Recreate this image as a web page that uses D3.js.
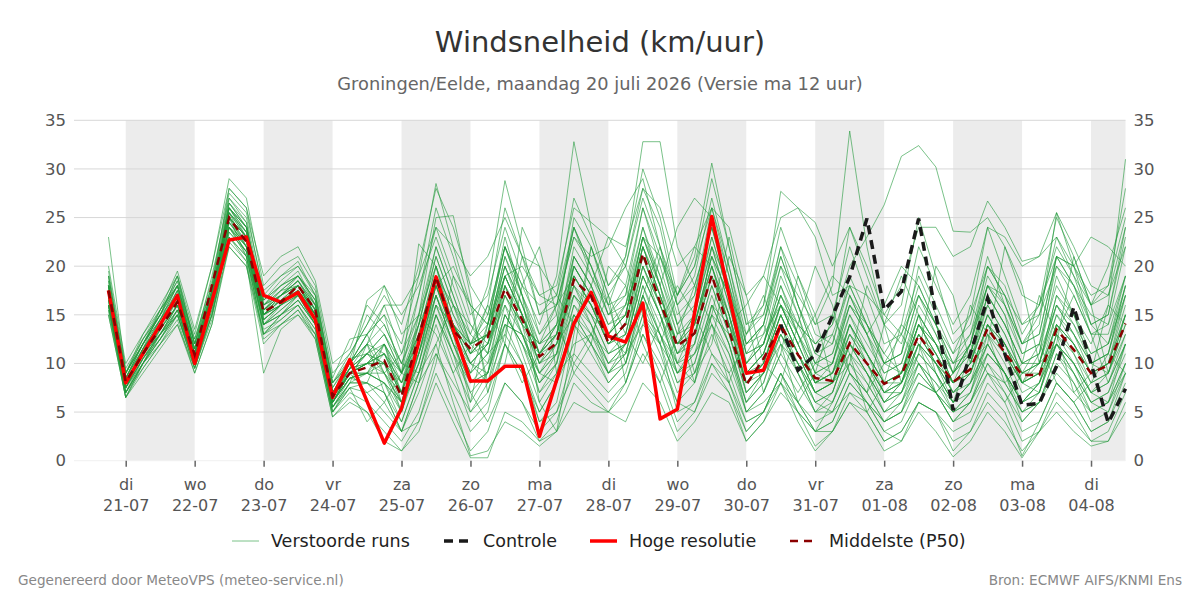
<!DOCTYPE html>
<html>
<head>
<meta charset="utf-8">
<script src="https://cdn.jsdelivr.net/npm/d3@7"></script>
<style>
  body { margin: 0; background: #fff; }
  svg { font-family: "DejaVu Sans", sans-serif; }
</style>
</head>
<body>
<svg width="1200" height="600"></svg>
<script>
// first forecast step and step length (hours)
const startTime = Date.UTC(2026, 6, 20, 18);
const stepHours = 6;

// Hoge resolutie (ends after 40 steps)
const hires = [17.5, 8.0, 11, 14, 17.0, 10.0, 16.4, 22.7, 23.0, 17.0, 16.3, 17.3, 14.5, 6.5, 10.4,
  6.1, 1.8, 5.4, 12.2, 18.9, 13.5, 8.2, 8.2, 9.7, 9.7, 2.5, 8.3, 14.1, 17.3, 12.8,
  12.2, 16.2, 4.3, 5.3, 15.2, 25.1, 17.0, 9.0, 9.3, 14.0];

// Controle, visible from step 39 on
const controlStart = 39;
const control = [14.0, 9.3, 10.9, 14.9, 18.9, 24.9, 15.5, 17.4, 24.9, 15.0, 5.2,
  11.0, 16.7, 11.0, 5.7, 5.9, 9.7, 15.8, 10.0, 3.9, 7.4];

// Middelste (P50)
const median = [17.5, 8.1, 11, 13.6, 16.3, 10.9, 18.0, 25.0, 22.5, 15.3, 16.3, 18.0, 15.5, 6.6, 9.0,
  9.6, 10.3, 6.6, 12.8, 18.9, 13.4, 11.5, 12.7, 17.7, 14.5, 10.7, 12.1, 18.6, 16.9, 12.1,
  14.1, 21.3, 16.3, 11.8, 13.1, 19.1, 13.4, 7.8, 10.5, 13.9, 10.9, 8.5, 8.2, 12.1, 10.0,
  7.9, 8.8, 12.9, 10.5, 8.1, 9.4, 13.6, 11.1, 8.8, 8.8, 13.5, 11.4, 9.0, 9.8, 14.1];

// Verstoorde runs
const runs = [
  [17, 8, 11, 14, 17, 11, 17, 26, 24, 15, 16, 18, 15, 6, 9,
   10, 12, 7, 13, 20, 15, 12, 13, 19, 15, 10, 12, 20, 17, 12,
   14, 22, 17, 11, 13, 20, 14, 8, 10, 15, 11, 8, 9, 13, 11, 8,
   9, 14, 11, 8, 10, 15, 12, 9, 9, 14, 12, 9, 10, 15],
  [19, 9, 12, 15, 19, 12, 18, 28, 26, 17, 19, 20, 17, 8, 10,
   13, 15, 9, 17, 26, 21, 15, 17, 24, 19, 13, 15, 24, 20, 15,
   17, 26, 20, 14, 17, 24, 17, 10, 12, 18, 14, 10, 11, 16, 13, 10,
   11, 17, 13, 9, 11, 17, 14, 10, 11, 16, 14, 11, 12, 17],
  [16, 7, 10, 13, 16, 10, 16, 24, 22, 14, 15, 17, 14, 5.5, 8,
   8, 6, 3, 8, 15, 10, 6, 9, 18, 14, 7, 10, 21, 18, 14,
   16, 24, 18, 10, 8, 16, 12, 5, 7, 12, 9, 6, 5, 9, 7, 4,
   5, 10, 8, 6, 7, 12, 9, 4, 6, 11, 9, 6, 5, 10],
  [18, 8.5, 11.5, 14, 17.5, 11, 17.5, 25, 23, 16, 17, 18.5, 16, 7, 10,
   12, 16, 11, 17, 24, 19, 14, 12, 16, 11, 6, 9, 16, 14, 10,
   12, 19, 15, 9, 12, 22, 18, 11, 14, 22, 18, 13, 12, 19, 15, 10,
   11, 20, 16, 12, 14, 21, 16, 11, 12, 20, 17, 13, 14, 22],
  [15, 6.5, 10, 12, 14, 9, 14, 22, 20, 12, 14, 15, 13, 5, 7,
   6, 4, 2, 5, 11, 7, 3, 5, 12, 9, 4, 6, 14, 11, 8,
   10, 17, 13, 8, 9, 15, 11, 6, 8, 14, 11, 7, 6, 11, 8, 5,
   6, 9, 7, 4, 5, 9, 7, 3, 4, 8, 6, 3, 4, 8],
  [23, 9, 13, 16, 19, 13, 20, 29, 27, 18, 20, 21, 18, 9, 11,
   14, 17, 14, 20, 28, 24, 18, 15, 22, 17, 11, 14, 25, 22, 17,
   20, 28, 24, 16, 19, 27, 20, 12, 14, 21, 16, 12, 14, 24, 19, 14,
   16, 25, 19, 13, 15, 24, 19, 14, 16, 25, 21, 16, 18, 28],
  [17.5, 7.5, 10.5, 13, 15.5, 10, 15, 23, 21, 13, 15, 16.5, 14, 6, 8.5,
   9, 10, 5, 10, 17, 12, 7, 4, 8, 6, 3, 5, 11, 9, 7,
   9, 15, 11, 6, 8, 13, 9, 4, 5, 9, 6, 3, 4, 8, 6, 3,
   4, 8, 7, 5, 6, 10, 8, 5, 7, 12, 10, 7, 8, 13],
  [16.5, 8, 11, 14.5, 18, 12, 19, 27, 25, 16.5, 18, 19.5, 16, 7.5, 10.5,
   15, 13, 9, 14, 21, 16, 11, 16, 26, 21, 15, 17, 27, 23, 18,
   21, 30, 25, 17, 20, 29, 22, 14, 16, 24, 19, 14, 15, 22, 17, 12,
   13, 19, 15, 11, 13, 20, 17, 12, 13, 21, 18, 14, 15, 23],
  [18.5, 8.5, 12, 15, 17, 11.5, 16.5, 24.5, 22, 15, 16.5, 17, 15, 6.5, 9.5,
   11, 9, 6, 12, 19, 14, 10, 8, 15, 12, 8, 11, 19, 16, 12,
   13, 21, 16, 12, 15, 23, 17, 9, 11, 16, 12, 8, 9, 15, 11, 7,
   8, 14, 11, 8, 10, 17, 14, 10, 11, 19, 15, 10, 9, 14],
  [17, 7, 10, 13.5, 16, 10.5, 16.5, 26.5, 24.5, 14.5, 16, 17.5, 15.5, 6, 9,
   10, 11, 7, 11, 18, 13, 9, 14, 22, 17, 12, 14, 18, 14, 9,
   11, 18, 14, 10, 14, 21, 15, 7, 9, 13, 9, 5, 7, 12, 9, 6,
   8, 13, 10, 6, 8, 12, 9, 6, 8, 14, 11, 7, 6, 12],
  [19.5, 9.5, 12.5, 15, 18.5, 12.5, 18.5, 27.5, 25.5, 17.5, 19, 20.5, 17, 8, 11,
   14, 18, 15, 18, 23, 18, 13, 11, 18, 14, 10, 13, 22, 19, 15,
   18, 26, 21, 15, 17, 26, 20, 13, 15, 22, 16, 11, 10, 16, 13, 9,
   10, 16, 13, 9, 12, 19, 16, 12, 13, 21, 18, 13, 13, 19],
  [15.5, 6.5, 9.5, 12, 15, 9.5, 14.5, 23.5, 21.5, 13.5, 14.5, 16, 13.5, 5, 7.5,
   7, 8, 4, 9, 16, 11, 5, 7, 14, 10, 5, 8, 15, 12, 9,
   12, 20, 15, 9, 11, 17, 12, 6, 8, 13, 10, 7, 8, 14, 10, 6,
   7, 12, 9, 5, 7, 13, 10, 6, 7, 13, 10, 6, 7, 11],
  [18, 8, 11.5, 14.5, 17, 11, 17, 25.5, 23.5, 16, 17.5, 18, 15.5, 7, 9.5,
   12, 14, 10, 15, 22, 17, 12, 13, 21, 17, 13, 16, 24, 19, 16,
   21, 32.8, 32.8, 22, 18, 24, 18, 10, 12, 17, 13, 9, 10, 17, 13, 8,
   9, 15, 12, 8, 10, 16, 13, 9, 10, 16, 13, 9, 10, 16],
  [16, 7.5, 10.5, 13.5, 16.5, 10.5, 17, 25, 23, 15, 16, 18, 15, 6.5, 9,
   9, 12, 8, 13, 20, 15, 11, 13, 20, 16, 11, 13, 21, 18, 13,
   15, 23, 18, 12, 14, 21, 17, 10, 13, 20, 17, 14, 18, 33.9, 22, 14,
   12, 18, 14, 9, 11, 17, 14, 10, 10, 16, 13, 10, 11, 18],
  [17, 8, 11, 13.5, 16, 11, 16, 24, 22.5, 15.5, 17, 18, 15, 6.5, 9,
   10, 9, 5, 11, 18, 13, 9, 11, 19, 15, 10, 12, 19, 16, 12,
   14, 22, 17, 12, 14, 20, 15, 9, 11, 17, 14, 12, 14, 20, 23, 26.3,
   31.3, 32.4, 30.2, 23.6, 23.5, 25, 22, 17, 16, 22, 19, 16, 17, 24],
  [16, 7, 9.5, 12, 14.5, 9, 14, 22.5, 20.5, 9, 13.5, 15, 12.5, 4.5, 6.5,
   5, 3, 1, 4, 9, 5, 1, 3, 8, 6, 2, 4, 10, 8, 6,
   8, 13, 10, 6, 5, 9, 7, 3, 5, 9, 5, 1.5, 3, 7, 5, 2,
   3, 6, 5, 2, 3, 6, 4, 1, 3, 6, 4, 2, 3, 7],
  [18, 9, 12, 15.5, 18.5, 12, 18, 27, 24.5, 16, 18, 19, 16.5, 7.5, 10,
   13, 15, 12, 19, 28.5, 22, 16, 14, 20, 15, 9, 11, 20, 17, 13,
   15, 23, 19, 14, 16, 23, 17, 11, 12, 19, 15, 10, 9, 14, 11, 8,
   9, 15, 12, 8, 9, 14, 11, 8, 9, 15, 12, 9, 10, 17],
  [17.5, 8, 11, 14, 16.5, 10.5, 16, 25, 22, 14, 16, 17, 14.5, 6, 9,
   11, 10, 7, 14, 21, 16, 13, 18, 28.8, 22, 15, 16, 23, 20, 16,
   17, 24, 19, 13, 15, 22, 16, 9, 10, 15, 11, 7, 8, 13, 10, 7,
   8, 13, 11, 7, 9, 14, 12, 8, 9, 14, 12, 8, 9, 15],
  [19, 9, 12.5, 15, 18, 11.5, 17.5, 26, 23.5, 16.5, 18, 19, 16, 7, 10,
   12, 11, 8, 14, 22, 17, 12, 14, 22, 18, 14, 19, 32.8, 24, 18,
   20, 27, 22, 17, 21, 30.6, 22, 14, 15, 21, 16, 11, 12, 18, 14, 10,
   11, 17, 14, 10, 12, 18, 15, 11, 12, 18, 15, 11, 12, 19],
  [15, 6.5, 10, 12.5, 15.5, 10, 15.5, 24, 21, 13, 15, 16.5, 14, 5.5, 8,
   8, 7, 3, 8, 14, 9, 4, 6, 12, 9, 5, 8, 15, 13, 9,
   11, 18, 13, 8, 10, 16, 12, 6, 9, 14, 10, 6, 7, 12, 9, 5,
   6, 11, 9, 6, 8, 14, 12, 8, 10, 17, 15, 12, 16, 31],
  [17, 8.5, 11.5, 14, 17.5, 11.5, 17.5, 25.5, 23, 15.5, 17, 18, 16, 7, 9.5,
   10, 12, 9, 13, 19, 14, 10, 12, 19, 15, 11, 13, 20, 17, 13,
   15, 23, 18, 13, 14, 20, 15, 8, 10, 16, 13, 10, 11, 17, 14, 11,
   14, 22, 18, 14, 17, 24, 23, 20, 21, 25.5, 22, 18, 17, 22],
  [16.5, 7.5, 11, 13.5, 16, 10, 16, 24.5, 22, 15, 16.5, 17.5, 15, 6.5, 9,
   11, 13, 9, 12, 17, 12, 8, 10, 17, 14, 12, 16, 23, 21, 22,
   26, 29, 22, 16, 18, 24, 18, 12, 14, 20, 15, 9, 8, 12, 10, 7,
   8, 12, 10, 7, 8, 12, 9, 6, 7, 12, 9, 6, 7, 12],
  [18, 8, 11, 14, 17, 11, 17, 26, 23.5, 15, 17, 18, 15, 6.5, 9,
   7, 5, 3, 7, 12, 6, 0.5, 1, 4, 3, 1.5, 3, 6, 5, 5,
   4, 8, 6, 2, 4, 7, 6, 2, 4, 7, 5, 3, 4, 8, 6, 4,
   5, 9, 7, 4, 6, 11, 9, 5, 6, 11, 8, 4, 5, 9],
  [16, 7.5, 10.5, 13, 15.5, 10, 16.5, 25, 23, 14.5, 16, 17.5, 15, 6, 9,
   9, 8, 6, 11, 18, 13, 9, 11, 17, 13, 9, 12, 18, 15, 11,
   13, 20, 16, 11, 14, 21, 17, 13, 16, 27.7, 26, 24.5, 20, 24, 20, 15,
   13, 17, 14, 10, 11, 16, 13, 9, 10, 15, 13, 10, 11, 17],
  [17.5, 8, 11.5, 14, 16.5, 10.5, 16.5, 25.5, 23.5, 15.5, 17, 18.5, 15.5, 7, 9.5,
   16.5, 18, 13, 15, 20, 14, 12, 15, 22, 18, 16, 17, 24, 20, 15,
   16, 21, 17, 12, 15, 22, 16, 9, 11, 16, 12, 8, 8, 13, 10, 7,
   7, 12, 10, 8, 10, 15, 12, 9, 10, 17, 14, 10, 11, 18],
  [18, 8.5, 11.5, 14.5, 17.5, 11.5, 17, 25, 22.5, 15, 16.5, 17.5, 15, 6, 8.5,
   9, 9, 6, 10, 17, 13, 10, 12, 18, 13, 8, 10, 16, 13, 10,
   11, 17, 12, 5, 6, 11, 8, 3, 5, 9, 6, 3, 3, 6, 5, 2,
   3, 6, 5, 3, 4, 8, 6, 2, 3, 7, 5, 2, 2, 6],
  [16.5, 7.5, 10.5, 13, 15, 9.5, 15, 23.5, 21.5, 14, 15.5, 17, 14, 5.5, 8.5,
   8, 7, 4, 9, 15, 11, 8, 9, 15, 12, 9, 11, 17, 15, 11,
   12, 19, 15, 11, 12, 18, 13, 7, 9, 13, 10, 6, 7, 12, 10, 7,
   9, 14, 12, 9, 12, 18, 16, 12, 15, 23, 19, 14, 15, 24],
  [17, 8, 11, 14, 16.5, 11, 17, 26, 24, 16, 17, 18.5, 15.5, 6.5, 9.5,
   10, 11, 7, 12, 19, 14, 11, 13, 20, 16, 12, 14, 21, 18, 14,
   15, 22, 18, 24, 27, 25, 19, 11, 12, 17, 13, 9, 10, 15, 12, 9,
   10, 15, 12, 8, 9, 14, 11, 7, 8, 13, 11, 8, 9, 14],
  [16, 7, 10, 13, 16, 10, 16, 24, 22, 14, 15.5, 17, 14.5, 6, 8.5,
   9, 8, 5, 11, 17, 12, 8, 9, 16, 13, 8, 10, 17, 14, 10,
   12, 19, 15, 10, 12, 18, 13, 7, 9, 14, 9, 5, 5, 9, 6, 3,
   2, 6, 5, 1, 3, 7, 5, 0.5, 4, 8, 6, 3, 4, 9],
  [17, 8, 11, 14, 17, 11, 17, 25, 23, 15.5, 16.5, 18, 15.5, 7, 9,
   10, 10, 7, 12, 19, 14, 11, 13, 21, 16, 11, 13, 20, 17, 13,
   15, 22, 17, 12, 13, 19, 14, 8, 10, 15, 11, 8, 9, 14, 11, 8,
   9, 14, 11, 8, 10, 15, 12, 8, 11, 21, 20, 23, 22, 20],
  [20, 10, 13, 15.5, 19.5, 13.5, 20, 28, 26, 19, 21, 22, 18.5, 10, 11.5,
   16, 14, 10, 9, 12, 16, 14, 11, 13, 21, 20, 17, 14, 18, 23,
   20, 15, 12, 17, 22, 20, 14, 16, 19, 16, 12, 15, 19, 17, 13, 16,
   20, 18, 14, 11, 15, 20, 18, 13, 16, 21, 20, 16, 20, 26],
  [15.5, 7, 10.5, 12.5, 15, 10, 15, 23, 21, 14, 15, 16, 13, 5, 8,
   12, 9, 11, 15, 13, 9, 12, 16, 12, 8, 11, 14, 10, 13, 17,
   13, 10, 14, 18, 15, 11, 9, 12, 14, 10, 7, 10, 13, 9, 7, 10,
   13, 10, 7, 9, 12, 9, 6, 9, 12, 8, 6, 8, 11, 9],
  [17, 9, 12, 14.5, 18, 12.5, 18, 26.5, 24, 16, 17.5, 19, 16.5, 8, 10,
   12, 7, 3, 4, 10, 19, 16, 8, 10, 18, 22, 15, 9, 12, 20,
   18, 12, 8, 13, 18, 14, 8, 13, 17, 12, 6, 9, 15, 11, 5, 8,
   14, 12, 7, 9, 16, 13, 8, 10, 17, 13, 7, 9, 16, 14],
  [18.5, 8, 11, 13, 15, 10, 17, 25, 21, 13, 14.5, 16, 13.5, 5.5, 7.5,
   4, 6, 9, 22.3, 20, 13, 6, 14, 23, 17, 6, 3, 13, 22, 17,
   8, 14, 21, 16, 9, 12, 21, 17, 10, 8, 14, 20, 16, 9, 7, 14,
   19, 15, 9, 6, 11, 18, 15, 8, 7, 13, 17, 13, 8, 12],
  [16, 7.5, 11.5, 15.5, 18, 11, 16, 24, 21.5, 15, 17, 19, 17, 8.5, 12.5,
   13, 9, 7, 15, 25, 25.2, 17, 7, 12, 24, 20, 9, 11, 22, 16,
   10, 17, 22, 14, 8, 15, 23, 15, 7, 11, 19, 15, 8, 10, 18, 14,
   8, 11, 20, 17, 10, 12, 22, 18, 10, 12, 21, 16, 9, 15],
  [17, 7.5, 10, 12.5, 15, 9.5, 15.5, 23, 20.5, 12.5, 14, 15.5, 12.5, 4.5, 6,
   5, 2, 1, 3, 8, 4, 0.3, 0.3, 5, 4, 2, 3, 8, 6, 5,
   7, 11, 8, 3, 5, 10, 7, 2, 4, 8, 4, 1, 3, 6, 4, 1,
   2, 5, 3, 0.4, 2, 5, 3, 0.3, 3, 5, 3, 1.5, 2, 5],
  [18, 8.5, 12, 15, 18, 11, 17, 26, 23, 15.5, 17.5, 19, 16.5, 7, 10,
   13, 16, 16, 19, 24, 22, 19, 21, 25, 21, 17, 16, 19, 16, 13,
   11, 14, 12, 9, 11, 15, 13, 8, 9, 12, 10, 7, 8, 11, 9, 6,
   8, 12, 10, 7, 9, 13, 11, 8, 9, 12, 10, 7, 9, 13],
  [17.5, 8, 11, 14, 17, 10.5, 16, 24.5, 22.5, 14.5, 16, 17.5, 15, 6.5, 9,
   10, 10, 8, 11, 16, 12, 10, 12, 17, 14, 12, 13, 17, 15, 13,
   16, 23, 21, 17, 20, 26, 24, 17, 19, 25, 26, 23, 17, 18, 14, 10,
   9, 14, 12, 10, 13, 18, 17, 14, 15, 20, 18, 15, 14, 19],
  [16, 6.5, 9, 11.5, 14, 9.5, 15, 22, 20, 13, 14, 15.5, 13, 5, 7.5,
   8, 12, 9, 8, 11, 8, 5, 8, 13, 10, 4, 5, 9, 7, 5,
   8, 13, 9, 4, 6, 10, 8, 4, 5, 8, 5, 3, 6, 10, 8, 5,
   7, 11, 9, 6, 8, 11, 9, 6, 8, 12, 9, 5, 6, 10],
  [19, 9, 12, 15, 19, 12, 17.5, 26.5, 24, 16.5, 18.5, 20, 17.5, 8, 10.5,
   11, 13, 10, 14, 18, 20, 16, 14, 19, 20, 17, 18, 26, 24.5, 23,
   22, 28, 26, 20, 22, 26, 19, 12, 13, 16, 12, 8, 9, 12, 9, 6,
   7, 10, 8, 5, 7, 11, 9, 6, 8, 12, 10, 7, 8, 12],
  [16.5, 7, 10, 12.5, 15.5, 10, 16, 24, 21.5, 14, 15, 16.5, 14, 5.5, 8,
   9, 11, 9, 13, 18, 14, 10, 9, 14, 13, 11, 12, 15, 12, 9,
   10, 15, 13, 10, 11, 14, 11, 5, 6, 8, 6, 4, 5, 7, 6, 4,
   5, 8, 7, 5, 6, 9, 8, 5, 6, 9, 7, 5, 6, 9],
  [18, 8.5, 12, 14.5, 17, 11, 16.5, 25, 23, 15, 16.5, 18, 15.5, 6.5, 9,
   10, 11, 8, 12, 18, 14, 11, 12, 18, 15, 11, 13, 19, 16, 12,
   13, 20, 16, 12, 13, 19, 15, 9, 11, 16, 14, 12, 13, 18, 17, 15,
   18, 24, 24, 21, 22, 26.7, 24, 20.5, 21, 23, 20, 17, 18, 25],
  [17, 8, 11, 13, 16, 10.5, 17, 25.5, 23, 15, 16, 17.5, 15, 6, 9.5,
   11, 12, 6, 9, 15, 11, 7, 9, 15, 12, 7, 9, 14, 12, 8,
   10, 16, 12, 7, 9, 14, 10, 5, 7, 11, 8, 5, 6, 10, 7, 4,
   6, 10, 7, 4, 6, 10, 7, 4, 6, 10, 8, 5, 6, 10],
  [17.5, 7.5, 11, 14, 17, 11.5, 17.5, 26, 24, 15.5, 17, 18.5, 16, 7, 9.5,
   11, 10, 6, 10, 16, 14, 12, 10, 14, 13, 9, 8, 12, 13, 11,
   12, 17, 13, 9, 10, 16, 14, 10, 12, 18, 13, 8, 10, 16, 14, 11,
   9, 13, 10, 8, 12, 20, 17, 12, 14, 25.5, 20, 14, 12, 18],
  [18, 9, 12.5, 15.5, 18, 12, 17, 25.5, 22, 14.5, 16, 17, 14, 6, 8.5,
   9, 8, 6, 12, 19, 16, 12, 13, 19, 15, 10, 11, 18, 16, 12,
   14, 21, 16, 11, 13, 19, 14, 8, 10, 15, 11, 7, 8, 14, 11, 8,
   8, 13, 10, 7, 9, 14, 11, 8, 9, 14, 12, 9, 10, 15]
];

// x axis: days, Dutch weekday names, shaded days
const tickDays = ["2026-07-21", "2026-07-22", "2026-07-23", "2026-07-24", "2026-07-25",
  "2026-07-26", "2026-07-27", "2026-07-28", "2026-07-29", "2026-07-30", "2026-07-31",
  "2026-08-01", "2026-08-02", "2026-08-03", "2026-08-04"];
const dayNames = ["zo", "ma", "di", "wo", "do", "vr", "za"];
const shadedDays = ["2026-07-21", "2026-07-23", "2026-07-25", "2026-07-27",
  "2026-07-29", "2026-07-31", "2026-08-02", "2026-08-04"];
const yTicks = [0, 5, 10, 15, 20, 25, 30, 35];

const svg = d3.select("svg");
const plotLeft = 74, plotRight = 1125.5, plotTop = 120.3, plotBottom = 460.7;

const x = d3.scaleUtc()
  .domain([Date.UTC(2026, 6, 20, 6), Date.UTC(2026, 7, 4, 12)])
  .range([plotLeft, plotRight]);
const y = d3.scaleLinear().domain([0, 35]).range([plotBottom, plotTop]);

const timeAt = i => new Date(startTime + i * stepHours * 3600e3);
const parseDay = s => new Date(s + "T00:00:00Z");

// shaded day bands
svg.append("g").selectAll("rect")
  .data(shadedDays)
  .join("rect")
  .attr("x", d => x(parseDay(d)))
  .attr("y", plotTop)
  .attr("width", d => Math.min(plotRight, x(d3.utcDay.offset(parseDay(d), 1))) - x(parseDay(d)))
  .attr("height", plotBottom - plotTop)
  .attr("fill", "#ececec");

// grid
svg.append("g").selectAll("line")
  .data(yTicks)
  .join("line")
  .attr("x1", plotLeft).attr("x2", plotRight)
  .attr("y1", d => y(d)).attr("y2", d => y(d))
  .attr("stroke", d => d === 0 ? "#f0f0f0" : "#d8d8d8")
  .attr("stroke-width", 1);

// axes
const yLeft = svg.append("g")
  .attr("transform", `translate(${plotLeft},0)`)
  .call(d3.axisLeft(y).tickValues(yTicks).tickSize(0).tickPadding(8));
const yRight = svg.append("g")
  .attr("transform", `translate(${plotRight},0)`)
  .call(d3.axisRight(y).tickValues(yTicks).tickSize(0).tickPadding(8));
[yLeft, yRight].forEach(g => {
  g.select(".domain").remove();
  g.selectAll("text").attr("font-size", 16.5).attr("fill", "#555")
    .attr("font-family", "DejaVu Sans");
});

const xAxis = svg.append("g")
  .attr("transform", `translate(0,${plotBottom})`)
  .call(d3.axisBottom(x).tickValues(tickDays.map(parseDay)).tickSize(6).tickFormat(""));
xAxis.select(".domain").remove();
xAxis.selectAll(".tick line").attr("stroke", "#666").attr("stroke-width", 1.5);
xAxis.selectAll(".tick").each(function(d) {
  const txt = d3.select(this).append("text")
    .attr("fill", "#555")
    .attr("font-size", 16)
    .attr("font-family", "DejaVu Sans")
    .attr("text-anchor", "middle");
  txt.append("tspan").attr("x", 0).attr("y", 29).text(dayNames[d.getUTCDay()]);
  txt.append("tspan").attr("x", 0).attr("y", 50).text(d3.utcFormat("%d-%m")(d));
});

// lines
const line = d3.line()
  .defined(d => d.v != null)
  .x(d => x(d.t))
  .y(d => y(d.v));
const toPts = (arr, offset = 0) => arr.map((v, i) => ({ t: timeAt(i + offset), v }));

svg.append("g").selectAll("path")
  .data(runs)
  .join("path")
  .attr("d", r => line(toPts(r)))
  .attr("fill", "none")
  .attr("stroke", "#22993a")
  .attr("stroke-opacity", 0.6)
  .attr("stroke-width", 1);

svg.append("path")
  .attr("d", line(toPts(hires)))
  .attr("fill", "none")
  .attr("stroke", "#ff0000")
  .attr("stroke-width", 3.5)
  .attr("stroke-linejoin", "round");

svg.append("path")
  .attr("d", line(toPts(control, controlStart)))
  .attr("fill", "none")
  .attr("stroke", "#1a1a1a")
  .attr("stroke-width", 3.5)
  .attr("stroke-dasharray", "9,6");

svg.append("path")
  .attr("d", line(toPts(median)))
  .attr("fill", "none")
  .attr("stroke", "#8b0000")
  .attr("stroke-width", 2.5)
  .attr("stroke-dasharray", "8,6");

// titles
svg.append("text")
  .attr("x", 600).attr("y", 52)
  .attr("text-anchor", "middle")
  .attr("font-size", 29)
  .attr("fill", "#333")
  .text("Windsnelheid (km/uur)");
svg.append("text")
  .attr("x", 600).attr("y", 90)
  .attr("text-anchor", "middle")
  .attr("font-size", 17.8)
  .attr("fill", "#666")
  .text("Groningen/Eelde, maandag 20 juli 2026 (Versie ma 12 uur)");

// legend
const legendItems = [
  { label: "Verstoorde runs", x: 232, stroke: "#22993a", op: 0.6, w: 1, dash: null },
  { label: "Controle", x: 444, stroke: "#1a1a1a", op: 1, w: 3.5, dash: "9,6" },
  { label: "Hoge resolutie", x: 590, stroke: "#ff0000", op: 1, w: 3.5, dash: null },
  { label: "Middelste (P50)", x: 790, stroke: "#8b0000", op: 1, w: 2.5, dash: "8,6" }
];
const lg = svg.append("g").selectAll("g")
  .data(legendItems)
  .join("g")
  .attr("transform", d => `translate(${d.x},541)`);
lg.append("line")
  .attr("x1", 0).attr("x2", 27)
  .attr("stroke", d => d.stroke)
  .attr("stroke-opacity", d => d.op)
  .attr("stroke-width", d => d.w)
  .attr("stroke-dasharray", d => d.dash);
lg.append("text")
  .attr("x", 39).attr("y", 6)
  .attr("font-size", 17.5)
  .attr("fill", "#222")
  .text(d => d.label);

// footer
svg.append("text")
  .attr("x", 18).attr("y", 585)
  .attr("font-size", 13.6)
  .attr("fill", "#888")
  .text("Gegenereerd door MeteoVPS (meteo-service.nl)");
svg.append("text")
  .attr("x", 1182).attr("y", 585)
  .attr("text-anchor", "end")
  .attr("font-size", 13.6)
  .attr("fill", "#888")
  .text("Bron: ECMWF AIFS/KNMI Ens");
</script>
</body>
</html>
